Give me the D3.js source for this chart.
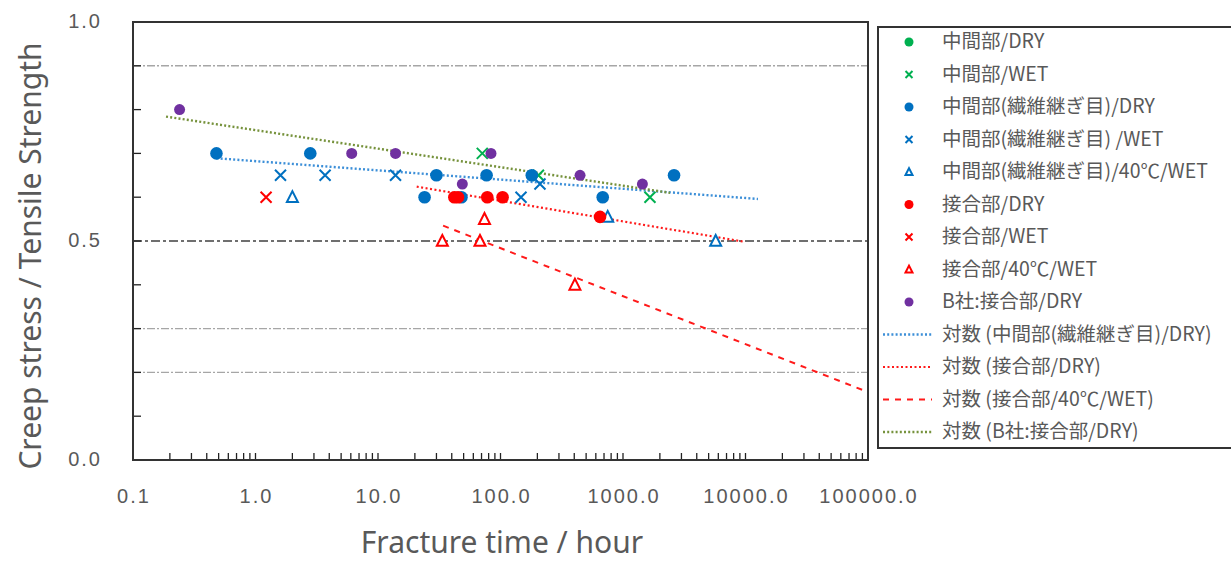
<!DOCTYPE html>
<html>
<head>
<meta charset="utf-8">
<script src="https://cdn.jsdelivr.net/npm/d3@7"></script>
<style>
  body { margin: 0; background: #fff; }
  svg { display: block; }
</style>
</head>
<body>
<svg id="chart" width="1231" height="561"></svg>
<script>
// series values: [fracture time (h), creep stress / tensile strength]
const midDry = [];
const midWet = [[71, 0.70], [204, 0.65], [1660, 0.60]];
const seamDry = [[0.48, 0.70], [2.8, 0.70], [24, 0.60], [30, 0.65], [48, 0.60], [77, 0.65], [180, 0.65], [683, 0.60], [2610, 0.65]];
const seamWet = [[1.6, 0.65], [3.7, 0.65], [13.9, 0.65], [147, 0.60], [210, 0.63]];
const seam40Wet = [[2.0, 0.60], [750, 0.555], [5710, 0.50]];
const jointDry = [[42, 0.60], [45, 0.60], [78, 0.60], [104, 0.60], [649, 0.555]];
const jointWet = [[1.22, 0.60]];
const joint40Wet = [[33.5, 0.50], [68, 0.50], [74, 0.55], [405, 0.40]];
const bDry = [[0.24, 0.80], [6.1, 0.70], [13.9, 0.70], [48.8, 0.63], [83.6, 0.70], [446, 0.65], [1440, 0.63]];

// log trend lines, start and end points
const trendSeamDry = [[0.48, 0.689], [12650, 0.596]];
const trendJointDry = [[20.7, 0.624], [9900, 0.498]];
const trendJoint40Wet = [[34, 0.535], [100000, 0.155]];
const trendBDry = [[0.186, 0.784], [2420, 0.610]];

const xTicks = [0.1, 1, 10, 100, 1000, 10000, 100000];
const xTickLabels = ["0.1", "1.0", "10.0", "100.0", "1000.0", "10000.0", "100000.0"];
const yTicks = [0, 0.5, 1.0];
const yTickLabels = ["0.0", "0.5", "1.0"];
const greyGrid = [0.9, 0.3, 0.2];
const blackGrid = [0.5];

const svg = d3.select("#chart");
const txt = "#595959";

const x = d3.scaleLog().domain([0.1, 100000]).range([133, 868]);
const y = d3.scaleLinear().domain([0, 1]).range([460, 22]);

const clipId = "plotclip";
svg.append("clipPath").attr("id", clipId)
  .append("rect").attr("x", 133).attr("y", 22).attr("width", 735).attr("height", 438);

// gridlines
svg.append("g").selectAll("line").data(greyGrid).join("line")
  .attr("x1", 133).attr("x2", 868)
  .attr("y1", d => y(d)).attr("y2", d => y(d))
  .attr("stroke", "#a6a6a6").attr("stroke-width", 1.4)
  .attr("stroke-dasharray", "8,2,2,2");
svg.append("g").selectAll("line").data(blackGrid).join("line")
  .attr("x1", 133).attr("x2", 868)
  .attr("y1", d => y(d)).attr("y2", d => y(d))
  .attr("stroke", "#404040").attr("stroke-width", 1.4)
  .attr("stroke-dasharray", "9,3,3,3");

// ticks inside the frame
const minor = [];
for (let e = -1; e < 5; e++) for (let m = 1; m < 10; m++) minor.push(m * Math.pow(10, e));
svg.append("g").selectAll("line").data(minor.slice(1)).join("line")
  .attr("x1", d => x(d)).attr("x2", d => x(d))
  .attr("y1", 460).attr("y2", 453)
  .attr("stroke", "#222").attr("stroke-width", 1.3);
svg.append("g").selectAll("line").data(d3.range(1, 10).map(d => d / 10)).join("line")
  .attr("x1", 133).attr("x2", 141)
  .attr("y1", d => y(d)).attr("y2", d => y(d))
  .attr("stroke", "#222").attr("stroke-width", 1.3);

// tick labels
svg.append("g").selectAll("text").data(xTicks).join("text")
  .attr("x", d => x(d) + 1).attr("y", 503)
  .attr("text-anchor", "middle")
  .attr("font-family", "Liberation Sans, Arial, sans-serif")
  .attr("font-size", 20).attr("letter-spacing", 2).attr("fill", txt)
  .text((d, i) => xTickLabels[i]);
svg.append("g").selectAll("text").data(yTicks).join("text")
  .attr("x", 102).attr("y", d => y(d) + 1)
  .attr("text-anchor", "end").attr("dominant-baseline", "middle")
  .attr("font-family", "Liberation Sans, Arial, sans-serif")
  .attr("font-size", 20).attr("letter-spacing", 2).attr("fill", txt)
  .text((d, i) => yTickLabels[i]);

// axis titles
svg.append("text")
  .attr("x", 502).attr("y", 553).attr("text-anchor", "middle")
  .attr("font-family", "Noto Sans, sans-serif").attr("font-size", 30).attr("fill", txt)
  .text("Fracture time / hour");
svg.append("text")
  .attr("transform", "translate(41,256) rotate(-90)").attr("text-anchor", "middle")
  .attr("font-family", "Noto Sans, sans-serif").attr("font-size", 30).attr("fill", txt)
  .text("Creep stress / Tensile Strength");

// trend lines
const line = d3.line().x(d => x(d[0])).y(d => y(d[1]));
const plot = svg.append("g").attr("clip-path", `url(#${clipId})`);
const trends = [
  { data: trendSeamDry, color: "#3c8fd8", dash: "2,2.2", w: 2.4 },
  { data: trendJointDry, color: "#ff1a1a", dash: "2,2.5", w: 2.2 },
  { data: trendJoint40Wet, color: "#ff1a1a", dash: "6,6", w: 2 },
  { data: trendBDry, color: "#76923c", dash: "2,2.2", w: 2.4 }
];
plot.selectAll("path.trend").data(trends).join("path")
  .attr("class", "trend")
  .attr("d", d => line(d.data))
  .attr("fill", "none").attr("stroke", d => d.color)
  .attr("stroke-width", d => d.w).attr("stroke-dasharray", d => d.dash);

// marker drawing
function marker(g, type, color, s) {
  if (type === "circle") {
    g.append("circle").attr("r", s).attr("fill", color);
  } else if (type === "cross") {
    g.append("path").attr("d", `M${-s},${-s}L${s},${s}M${-s},${s}L${s},${-s}`)
      .attr("stroke", color).attr("stroke-width", 2).attr("fill", "none");
  } else {
    const h = s * 1.1;
    g.append("path").attr("d", `M0,${-h}L${s},${h * 0.8}L${-s},${h * 0.8}Z`)
      .attr("stroke", color).attr("stroke-width", 2).attr("fill", "#fff");
  }
}

const series = [
  { name: "中間部/DRY", data: midDry, type: "circle", color: "#00b050", size: 5.5 },
  { name: "中間部/WET", data: midWet, type: "cross", color: "#00b050", size: 5.5 },
  { name: "中間部(繊維継ぎ目)/DRY", data: seamDry, type: "circle", color: "#0070c0", size: 6.3 },
  { name: "中間部(繊維継ぎ目) /WET", data: seamWet, type: "cross", color: "#0070c0", size: 5.5 },
  { name: "中間部(繊維継ぎ目)/40℃/WET", data: seam40Wet, type: "triangle", color: "#0070c0", size: 5.5 },
  { name: "接合部/DRY", data: jointDry, type: "circle", color: "#ff0000", size: 6.3 },
  { name: "接合部/WET", data: jointWet, type: "cross", color: "#ff0000", size: 5.5 },
  { name: "接合部/40℃/WET", data: joint40Wet, type: "triangle", color: "#ff0000", size: 5.5 },
  { name: "B社:接合部/DRY", data: bDry, type: "circle", color: "#7030a0", size: 5.5 }
];

series.forEach(s => {
  plot.append("g").selectAll("g").data(s.data).join("g")
    .attr("transform", d => `translate(${x(d[0])},${y(d[1])})`)
    .each(function() { marker(d3.select(this), s.type, s.color, s.size); });
});

// plot frame
svg.append("rect").attr("x", 133).attr("y", 22).attr("width", 735).attr("height", 438)
  .attr("fill", "none").attr("stroke", "#333").attr("stroke-width", 2);

// legend
const legendItems = series.map(s => ({ name: s.name, type: s.type, color: s.color }))
  .concat([
    { name: "対数 (中間部(繊維継ぎ目)/DRY)", line: trends[0] },
    { name: "対数 (接合部/DRY)", line: trends[1] },
    { name: "対数 (接合部/40℃/WET)", line: trends[2] },
    { name: "対数 (B社:接合部/DRY)", line: trends[3] }
  ]);

svg.append("rect").attr("x", 878).attr("y", 27).attr("width", 380).attr("height", 421)
  .attr("fill", "#fff").attr("stroke", "#333").attr("stroke-width", 2);

const leg = svg.append("g").selectAll("g").data(legendItems).join("g")
  .attr("transform", (d, i) => `translate(0,${42 + i * 32.5})`);
leg.each(function(d) {
  const g = d3.select(this);
  if (d.line) {
    g.append("line").attr("x1", 883).attr("x2", 932).attr("y1", 0).attr("y2", 0)
      .attr("stroke", d.line.color).attr("stroke-width", d.line.w)
      .attr("stroke-dasharray", d.line.dash);
  } else {
    const m = g.append("g").attr("transform", "translate(909,0)");
    marker(m, d.type, d.color, d.type === "circle" ? 4.5 : 3.5);
  }
  g.append("text").attr("x", 942).attr("y", 1).attr("dominant-baseline", "middle")
    .attr("font-family", "Noto Sans CJK JP, sans-serif").attr("font-size", 19.5)
    .attr("fill", txt).text(d.name);
});
</script>
</body>
</html>
